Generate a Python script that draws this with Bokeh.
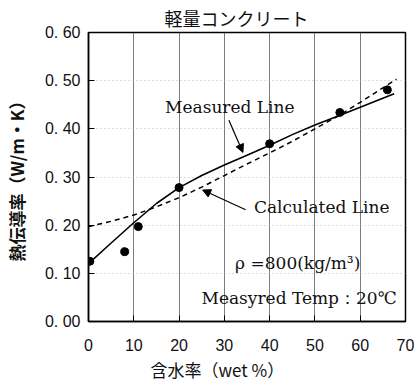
from bokeh.plotting import figure
from bokeh.models import (Range1d, FixedTicker, CustomJSTickFormatter, Title,
                          Arrow, NormalHead, ColumnDataSource)
from bokeh.core.properties import value
from bokeh.embed import file_html
from bokeh.resources import INLINE

# ---- data ----
title_text = "軽量コンクリート"
x_label = "含水率（wet %）"
y_label = "熱伝導率（W/m・K）"

x_ticks = [0, 10, 20, 30, 40, 50, 60, 70]
y_ticks = [0.0, 0.1, 0.2, 0.3, 0.4, 0.5, 0.6]

pts_x = [0.3, 8, 11, 20, 40, 55.5, 66]
pts_y = [0.125, 0.145, 0.197, 0.278, 0.369, 0.434, 0.481]

meas_x = [0, 5, 10, 15, 20, 25, 30, 35, 40, 45, 50, 55, 60, 67.5]
meas_y = [0.12, 0.163, 0.205, 0.245, 0.278, 0.303, 0.325, 0.345, 0.366, 0.388, 0.408, 0.426, 0.445, 0.473]

calc_x = [0, 5, 10, 15, 20, 25, 30, 35, 40, 45, 50, 55, 60, 65, 68]
calc_y = [0.197, 0.208, 0.221, 0.238, 0.257, 0.279, 0.303, 0.327, 0.35, 0.374, 0.40, 0.426, 0.455, 0.485, 0.503]

ann_text = ["Measured Line", "Calculated Line", "ρ =800(kg/m³)", "Measyred Temp：20℃"]
ann_x = [31.2, 51.5, 46.2, 46.5]
ann_y = [0.445, 0.238, 0.122, 0.049]

arrow_meas = [31.0, 0.418, 34.1, 0.351]
arrow_calc = [34.7, 0.232, 25.2, 0.273]

# ---- figure ----
p = figure(frame_width=317, frame_height=289, output_backend="svg", toolbar_location=None,
           x_range=Range1d(0, 70), y_range=Range1d(0, 0.6),
           min_border_left=83, min_border_right=9, min_border_top=25, min_border_bottom=40)
p.background_fill_color = "white"
p.border_fill_color = "white"
p.outline_line_color = "black"
p.outline_line_width = 1.5

num_font = "Liberation Sans"
jp_font = "Noto Sans CJK JP"
serif = "DejaVu Serif"

p.xaxis.ticker = FixedTicker(ticks=x_ticks)
p.yaxis.ticker = FixedTicker(ticks=y_ticks)
p.yaxis.formatter = CustomJSTickFormatter(code="return tick.toFixed(2).replace('.', '. ')")
for ax in (p.xaxis, p.yaxis):
    ax.major_label_text_font = num_font
    ax.major_label_text_font_size = "16px"
    ax.major_label_text_color = "#111"
    ax.major_tick_in = 6
    ax.major_tick_out = 0
    ax.minor_tick_line_color = None
    ax.axis_line_color = "black"
    ax.axis_line_width = 1.5
    ax.major_tick_line_color = "black"
p.xaxis.major_label_standoff = 17
p.yaxis.major_label_standoff = 8

p.yaxis.axis_label = y_label
p.yaxis.axis_label_text_font = jp_font
p.yaxis.axis_label_text_font_size = "17px"
p.yaxis.axis_label_text_font_style = "bold"
p.yaxis.axis_label_text_color = "#111"
p.yaxis.axis_label_standoff = 13

p.xgrid.ticker = FixedTicker(ticks=[10, 20, 30, 40, 50, 60])
p.xgrid.grid_line_color = "#444"
p.xgrid.grid_line_alpha = 0.7
p.xgrid.grid_line_width = 1
p.ygrid.grid_line_color = "#bbb"
p.ygrid.grid_line_dash = "1 3"
p.ygrid.grid_line_width = 1

t = Title(text=title_text, align="left", offset=76, text_font=jp_font,
          text_font_size="18px", text_font_style="normal", text_color="#111", standoff=4)
p.add_layout(t, "above")
xl = Title(text=x_label, align="left", offset=62, text_font=jp_font,
           text_font_size="17px", text_font_style="normal", text_color="#111", standoff=2)
p.add_layout(xl, "below")

p.line(calc_x, calc_y, line_color="black", line_width=1.5, line_dash="5 4")
p.line(meas_x, meas_y, line_color="black", line_width=1.6)
p.scatter(pts_x, pts_y, size=8, color="black")

src = ColumnDataSource(dict(x=ann_x, y=ann_y, t=ann_text))
p.text(x="x", y="y", text="t", source=src, text_font=value(serif), text_font_size="17px",
       text_align="center", text_baseline="middle", text_color="#111")

for a in (arrow_meas, arrow_calc):
    p.add_layout(Arrow(x_start=a[0], y_start=a[1], x_end=a[2], y_end=a[3],
                       line_color="black", line_width=1.2,
                       end=NormalHead(size=8, fill_color="black", line_color="black")))

open("out.html", "w").write(file_html(p, INLINE))
